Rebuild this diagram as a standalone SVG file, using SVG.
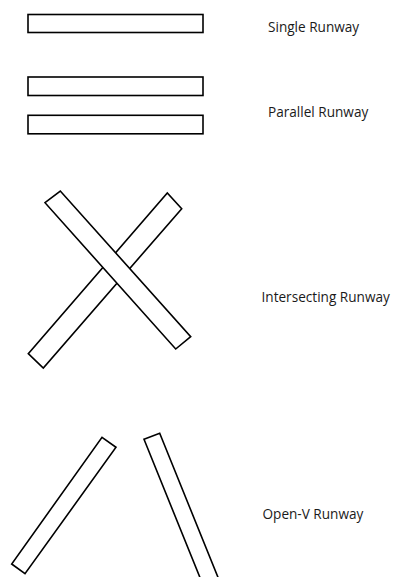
<svg xmlns="http://www.w3.org/2000/svg" width="393" height="577" viewBox="0 0 393 577">
<style>
.rw{fill:#fff;stroke:#000;stroke-width:1.6;stroke-linejoin:miter}
.lbl{font-family:"Open Sans","Liberation Sans",sans-serif;font-size:13.6px;fill:#1a1a1a}
</style>
<rect width="393" height="577" fill="#fff"/>
<g id="single">
<rect class="rw" x="28" y="14.5" width="175" height="18"/>
<text class="lbl" x="268" y="32">Single Runway</text>
</g>
<g id="parallel">
<rect class="rw" x="28" y="77" width="175" height="18.5"/>
<rect class="rw" x="28" y="115.3" width="175" height="18.5"/>
<text class="lbl" x="268" y="116.5">Parallel Runway</text>
</g>
<g id="intersecting">
<polygon class="rw" points="28.3,353.7 43.3,368 181.7,208.7 167.3,193"/>
<polygon class="rw" points="45,202.7 60.3,191 190.7,336.7 175.7,349"/>
<text class="lbl" x="261.5" y="301.5">Intersecting Runway</text>
</g>
<g id="openv">
<polygon class="rw" points="11.7,564 25,573.7 116,447.3 102,437.3"/>
<polygon class="rw" points="144,439.3 159.7,433.3 221.1,585 203,585"/>
<text class="lbl" x="262.5" y="519">Open-V Runway</text>
</g>
<g id="connectors"/>
</svg>
